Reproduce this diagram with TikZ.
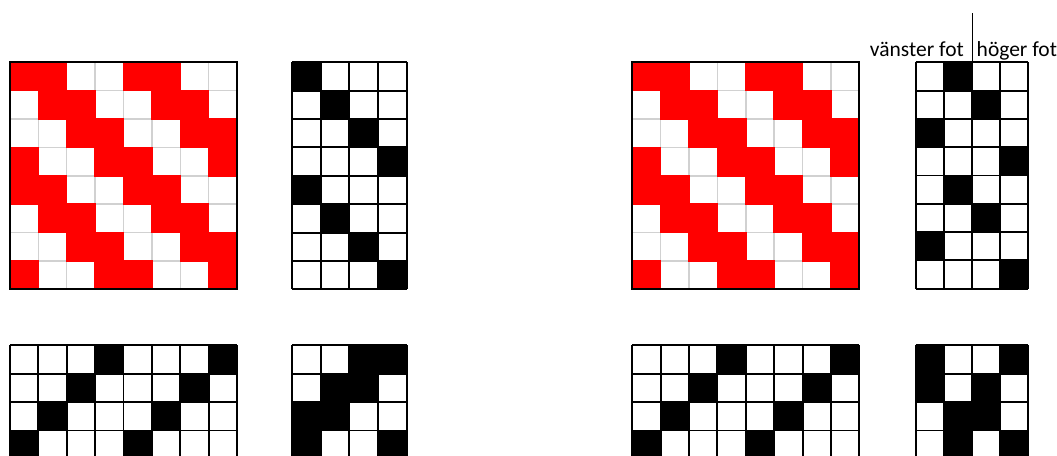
\documentclass[tikz,border=0pt]{standalone}
\usepackage{fontspec}
\setmainfont{Carlito}
\tikzset{
 gridline/.style={line width=1.9pt, black},
 grayline/.style={line width=1.4pt, black!18},
 blackcell/.style={fill=black},
 redcell/.style={fill=red},
 lbl/.style={font=\fontsize{21.5}{25}\selectfont, inner sep=0pt}
}
\newcommand\blkgrid[7]{%
 \foreach \r/\c in {#7}{\fill[blackcell] ({#1+\c*#3},{#2+\r*#4}) rectangle ++(#3,#4);}
 \foreach \i in {0,...,#5}{\draw[gridline] ({#1+\i*#3},#2) -- ++(0,{#6*#4});}
 \foreach \j in {0,...,#6}{\draw[gridline] (#1,{#2+\j*#4}) -- ++({#5*#3},0);}
}
\newcommand\redgrid[2]{%
 \fill[white] (#1,#2) rectangle ++(227,227);
 \foreach \i in {1,...,7}{%
   \draw[grayline] ({#1+\i*28.375},#2) -- ++(0,227);
   \draw[grayline] (#1,{#2+\i*28.375}) -- ++(227,0);}
 \foreach \r in {0,...,7}{\foreach \c in {0,...,7}{%
   \pgfmathtruncatemacro\m{mod(\c-\r+8,4)}%
   \ifnum\m<2 \fill[redcell] ({#1+\c*28.375-0.7},{#2+\r*28.375-0.7}) rectangle ++(29.775,29.775);\fi
 }}
 \draw[gridline] (#1,#2) rectangle ++(227,227);
}
\begin{document}
\begin{tikzpicture}[x=1pt,y=-1pt]
\useasboundingbox (0,0) rectangle (1057,455);
\clip (0,0) rectangle (1057,455);
% left group
\redgrid{10}{62.3}
\blkgrid{292}{62.3}{28.67}{28.375}{4}{8}{0/0,1/1,2/2,3/3,4/0,5/1,6/2,7/3}
\blkgrid{10}{345.3}{28.375}{28.4}{8}{4}{0/3,0/7,1/2,1/6,2/1,2/5,3/0,3/4}
\blkgrid{292}{345.3}{28.67}{28.4}{4}{4}{0/2,0/3,1/1,1/2,2/0,2/1,3/0,3/3}
% right group
\redgrid{632.3}{62.3}
\blkgrid{915.7}{62.3}{28.1}{28.3}{4}{8}{0/1,1/2,2/0,3/3,4/1,5/2,6/0,7/3}
\blkgrid{632.3}{345.3}{28.375}{28.4}{8}{4}{0/3,0/7,1/2,1/6,2/1,2/5,3/0,3/4}
\blkgrid{915.7}{345.3}{28.1}{28.4}{4}{4}{0/0,0/3,1/0,1/2,2/1,2/2,3/1,3/3}
% labels
\coordinate (top) at (972.7,13);
\coordinate (bot) at (972.7,62.3);
\draw[line width=1.3pt] (top) -- (bot);
\node[lbl, anchor=base east] (vf) at (964,56.7) {vänster fot};
\node[lbl, anchor=base west] (hf) at (976.5,56.7) {höger fot};
\end{tikzpicture}
\end{document}
